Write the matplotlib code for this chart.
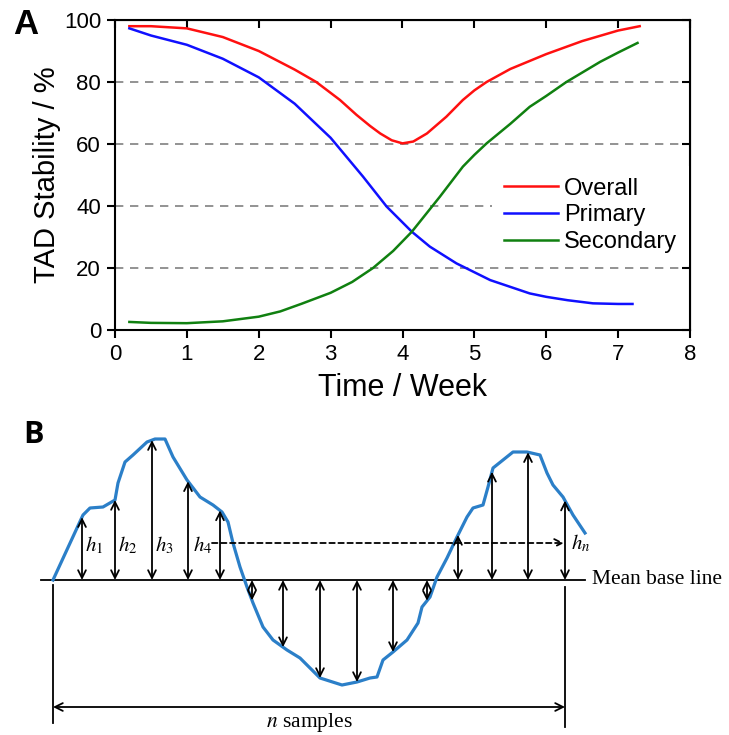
import numpy as np
import matplotlib
matplotlib.use('Agg')
import matplotlib.pyplot as plt

plt.rcParams['font.family'] = 'Liberation Sans'
plt.rcParams['mathtext.fontset'] = 'stix'

# Panel A data
t_overall = [0.2, 0.5, 1.0, 1.5, 2.0, 2.5, 2.8, 3.13, 3.36, 3.55, 3.69, 3.85, 4.0, 4.15,
             4.34, 4.61, 4.84, 5.0, 5.17, 5.5, 6.0, 6.5, 7.0, 7.3]
overall = [98, 98, 97.3, 94.5, 90, 84, 80, 74.2, 69.4, 65.8, 63.4, 61.2, 60.2, 60.8,
           63.4, 68.8, 74.2, 77.3, 80, 84.2, 89, 93.2, 96.6, 98]
t_primary = [0.2, 0.5, 1.0, 1.5, 2.0, 2.5, 3.0, 3.45, 3.78, 4.13, 4.38, 4.75, 5.22, 5.77,
             6.0, 6.3, 6.65, 7.0, 7.2]
primary = [97.3, 95, 92, 87.5, 81.5, 73, 62, 49.5, 39.8, 31.7, 26.9, 21.5, 16.1, 11.8,
           10.7, 9.6, 8.6, 8.4, 8.4]
t_secondary = [0.2, 0.5, 1.0, 1.5, 2.0, 2.3, 2.6, 3.0, 3.3, 3.59, 3.87, 4.13, 4.52, 4.84,
               5.0, 5.17, 5.5, 5.77, 6.0, 6.28, 6.75, 7.0, 7.27]
secondary = [2.6, 2.3, 2.2, 2.8, 4.3, 6.0, 8.5, 12, 15.5, 20, 25.5, 31.7, 43, 52.7,
             56.5, 60.2, 66.5, 72, 75.5, 80, 86.5, 89.5, 92.6]

# Panel B data: surface profile (sample position, height above mean line)
prof_x = [53, 83, 90, 103, 115, 118, 125, 133, 147, 155, 165, 173, 187, 200, 213, 222, 228,
          233, 240, 247, 253, 263, 273, 287, 300, 320, 342, 357, 370, 377, 383, 393, 407,
          418, 422, 430, 437, 447, 457, 467, 473, 483, 488, 493, 503, 513, 527, 540, 547,
          553, 563, 573, 585]
prof_h = [0, 65, 72, 73, 80, 97, 118, 125, 138, 141, 141, 123, 100, 83, 75, 68, 58,
          37, 13, -7, -23, -47, -60, -70, -78, -98, -105, -102, -98, -97, -80, -72, -60,
          -43, -27, -17, 3, 22, 43, 63, 72, 75, 93, 112, 120, 128, 128, 125, 107,
          95, 83, 65, 47]
sample_x = [82, 115, 152, 188, 220, 252, 283, 320, 357, 393, 427, 458, 492, 528, 565]
h_labels = ['$h_1$', '$h_2$', '$h_3$', '$h_4$']
h_label_x = [85, 118, 155, 193]

W, H = 729, 735
fig = plt.figure(figsize=(W / 100, H / 100), dpi=100)

# ---- Panel A ----
ax = fig.add_axes([115 / W, 1 - 330 / H, 575 / W, 310 / H])
ax.plot(t_overall, overall, color='#ff1010', lw=1.8, label='Overall')
ax.plot(t_primary, primary, color='#1010ff', lw=1.8, label='Primary')
ax.plot(t_secondary, secondary, color='#108010', lw=1.8, label='Secondary')
for yv in [20, 40, 60, 80]:
    ax.axhline(yv, color='#808080', lw=1.2, ls=(0, (5, 4)), zorder=0)
ax.set_xlim(0, 8)
ax.set_ylim(0, 100)
ax.set_xticks(range(9))
ax.set_yticks(range(0, 101, 20))
ax.tick_params(direction='out', length=6, width=1.5, labelsize=16, pad=4)
for s in ax.spines.values():
    s.set_linewidth(1.5)
sec_x = ax.secondary_xaxis('top')
sec_x.set_xticks(range(9))
sec_x.tick_params(direction='in', length=6, width=1.5, labeltop=False)
sec_y = ax.secondary_yaxis('right')
sec_y.set_yticks(range(0, 101, 20))
sec_y.tick_params(direction='in', length=6, width=1.5, labelright=False)
ax.set_xlabel('Time / Week', fontsize=22, labelpad=6)
ax.set_ylabel('TAD Stability / %', fontsize=21, labelpad=2)
leg = ax.legend(loc='upper left', bbox_to_anchor=(0.656, 0.53), fontsize=17,
                frameon=True, framealpha=1, facecolor='white', edgecolor='none',
                handlelength=2.3, handletextpad=0.25, labelspacing=0.2,
                borderpad=0.5, borderaxespad=0, fancybox=False)
fig.text(13 / W, 1 - 8 / H, 'A', fontsize=25, fontweight='bold', va='top')

# ---- Panel B ----
axb = fig.add_axes([0, 0, 1, 335 / H])
axb.set_xlim(0, W)
axb.set_ylim(H, 400)
axb.axis('off')
base = 580
prof_y = base - np.array(prof_h)
axb.plot(prof_x, prof_y, color='#2b7fc8', lw=2.3, zorder=3)
axb.plot([41, 585], [base, base], color='black', lw=1.3)
axb.plot([53, 53], [585, 723], color='black', lw=1.3)
axb.plot([565, 565], [587, 727], color='black', lw=1.3)
arrow = dict(arrowstyle='<->', lw=1.3, color='black', shrinkA=0, shrinkB=0,
             mutation_scale=14)
for sx in sample_x:
    tip = base - np.interp(sx, prof_x, prof_h)
    axb.annotate('', xy=(sx, tip), xytext=(sx, base), arrowprops=arrow)
axb.annotate('', xy=(565, 707), xytext=(53, 707), arrowprops=arrow)
axb.annotate('', xy=(564, 543), xytext=(212, 543),
             arrowprops=dict(arrowstyle='->', lw=1.3, ls=(0, (3, 2)), color='black',
                             shrinkA=0, shrinkB=0, mutation_scale=14))
for lab, lx in zip(h_labels, h_label_x):
    axb.text(lx, 545, lab, fontsize=15, va='center', ha='left')
axb.text(571, 543, '$h_n$', fontsize=15, va='center', ha='left')
axb.text(592, 580, 'Mean base line', fontsize=15.5, va='center', ha='left',
         family='Liberation Serif')
axb.text(309, 722, '$n$ samples', fontsize=15.5, va='center', ha='center',
         family='Liberation Serif')
fig.text(23 / W, 1 - 420 / H, 'B', fontsize=22, fontweight='bold', va='top',
         family='Open Sans')

fig.savefig('out.png', dpi=100)
